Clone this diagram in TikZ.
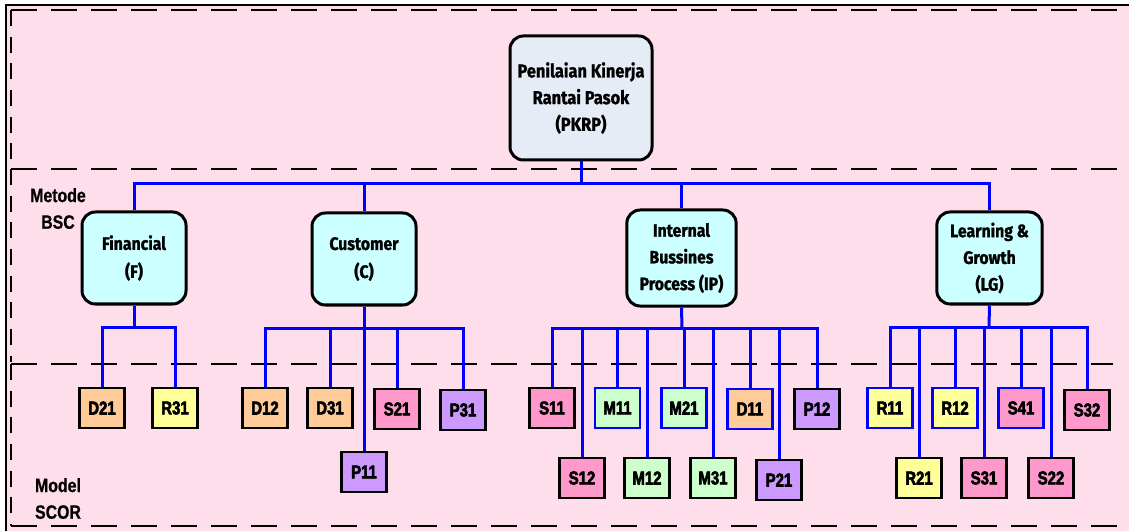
\documentclass[tikz,border=0pt]{standalone}
\usepackage{fontspec}
\newfontfamily\bscfont{Fira Sans Bold}[FakeStretch=0.88,FakeBold=1.2]
\newfontfamily\codefont{Liberation Sans Bold}[FakeStretch=0.8,FakeBold=3]
\newfontfamily\lblfont{Liberation Sans Bold}[FakeStretch=0.82,FakeBold=0.6]
\definecolor{bgpink}{HTML}{FFDEEC}
\definecolor{topfill}{HTML}{E6ECF6}
\definecolor{cyanfill}{HTML}{CCFFFF}
\definecolor{orangefill}{HTML}{FFCC99}
\definecolor{yellowfill}{HTML}{FFFF99}
\definecolor{pinkfill}{HTML}{FF99CC}
\definecolor{purplefill}{HTML}{CC99FF}
\definecolor{greenfill}{HTML}{CCFFCC}
\definecolor{linkblue}{HTML}{0000FF}
\begin{document}
\begin{tikzpicture}[x=0.75pt,y=-0.75pt,
  bigbox/.style={draw=black,line width=2.25pt,rounded corners=10pt,fill=cyanfill,
    align=center,inner sep=0pt,minimum width=78pt,minimum height=69pt,
    font=\bscfont\fontsize{13.5}{20}\selectfont},
  code/.style={draw=black,line width=1.9pt,inner sep=0pt,minimum width=34pt,
    minimum height=30pt,font=\codefont\fontsize{14}{16}\selectfont},
  bluecode/.style={code,draw=linkblue},
  link/.style={draw=linkblue,line width=2.25pt},
  hdash/.style={draw=black,line width=1.5pt,dash pattern=on 19.5pt off 10.5pt},
  vdash/.style={draw=black,line width=1.5pt,dash pattern=on 12pt off 8pt},
  lbl/.style={align=center,inner sep=0pt,font=\lblfont\fontsize{14.5}{20}\selectfont}]
\useasboundingbox (0,0) rectangle (1129,531);
\fill[bgpink] (6,5) rectangle (1129,531);
\draw[black,line width=1.5pt] (6,531) -- (6,5) -- (1129,5);
% dashed regions
\draw[hdash] (11,10) -- (1117,10);
\draw[vdash] (11,10) -- (11,167);
\draw[hdash] (11,169) -- (1117,169);
\draw[vdash] (11,169) -- (11,362);
\draw[hdash] (11,364) -- (1113,364);
\draw[vdash] (11,364) -- (11,526);
\draw[hdash] (11,526) -- (1125,526);
% side labels
\node[lbl] (metode) at (58,208.5) {Metode\\BSC};
\node[lbl] (model) at (58,498.5) {Model\\SCOR};
% main boxes
\node[bigbox,fill=topfill,minimum width=106.5pt,minimum height=93pt,
  font=\bscfont\fontsize{14}{20}\selectfont] (pkrp) at (581,98)
  {Penilaian Kinerja\\Rantai Pasok\\(PKRP)};
\node[bigbox,font=\bscfont\fontsize{13.5}{21}\selectfont] (F) at (134,258) {Financial\\(F)};
\node[bigbox,font=\bscfont\fontsize{13.5}{21}\selectfont] (C) at (364,259) {Customer\\(C)};
\node[bigbox,minimum width=82pt,minimum height=72pt] (IP) at (681.5,258) {Internal\\Bussines\\Process (IP)};
\node[bigbox,minimum width=79pt] (LG) at (989.5,258) {Learning \&\\Growth\\(LG)};
% code boxes: Financial
\node[code,fill=orangefill] (D21) at (102,408) {D21};
\node[code,fill=yellowfill] (R31) at (175,408) {R31};
% Customer
\node[code,fill=orangefill] (D12) at (265,408) {D12};
\node[code,fill=orangefill] (D31) at (330,408) {D31};
\node[code,fill=pinkfill] (S21) at (397,409) {S21};
\node[code,fill=purplefill] (P31) at (463,410) {P31};
\node[code,fill=purplefill] (P11) at (364,472) {P11};
% Internal Business Process
\node[code,fill=pinkfill] (S11) at (552,408) {S11};
\node[bluecode,fill=greenfill] (M11) at (617.5,408) {M11};
\node[bluecode,fill=greenfill] (M21) at (684,408) {M21};
\node[bluecode,fill=orangefill] (D11) at (750,409) {D11};
\node[code,fill=purplefill] (P12) at (817,409) {P12};
\node[code,fill=pinkfill] (S12) at (582,478) {S12};
\node[code,fill=greenfill] (M12) at (647,478) {M12};
\node[code,fill=greenfill] (M31) at (713,478) {M31};
\node[code,fill=purplefill] (P21) at (779,480) {P21};
% Learning & Growth
\node[bluecode,fill=yellowfill] (R11) at (890,408) {R11};
\node[bluecode,fill=yellowfill] (R12) at (955,408) {R12};
\node[bluecode,fill=pinkfill] (S41) at (1021,408) {S41};
\node[code,fill=pinkfill] (S32) at (1087,410) {S32};
\node[code,fill=yellowfill] (R21) at (919,478) {R21};
\node[code,fill=pinkfill] (S31) at (984,478) {S31};
\node[code,fill=pinkfill] (S22) at (1051,478) {S22};
% buses
\coordinate (mb) at (581,184);
\coordinate (fb) at (134,327);
\coordinate (cb) at (364,328);
\coordinate (ib) at (682,328);
\coordinate (lb) at (989,327);
% main connectors
\draw[link] (pkrp.south) -- (mb);
\draw[link] (F.north) |- (mb) -| (LG.north);
\draw[link] (C.north) -- (C.north |- mb);
\draw[link] (IP.north) -- (IP.north |- mb);
% Financial
\draw[link] (F.south) -- (fb);
\draw[link] (D21.north) |- (fb) -| (R31.north);
% Customer
\draw[link] (C.south) -- (cb);
\draw[link] (D12.north) |- (cb) -| (P31.north);
\draw[link] (D31.north) -- (D31.north |- cb);
\draw[link] (S21.north) -- (S21.north |- cb);
\draw[link] (P11.north) -- (P11.north |- cb);
% Internal Business Process
\draw[link] (IP.south) -- (ib);
\draw[link] (S11.north) |- (ib) -| (P12.north);
\foreach \n in {S12,M11,M12,M21,M31,D11,P21}
  \draw[link] (\n.north) -- (\n.north |- ib);
% Learning & Growth
\draw[link] (LG.south) -- (lb);
\draw[link] (R11.north) |- (lb) -| (S32.north);
\foreach \n in {R21,R12,S31,S41,S22}
  \draw[link] (\n.north) -- (\n.north |- lb);
\end{tikzpicture}
\end{document}
